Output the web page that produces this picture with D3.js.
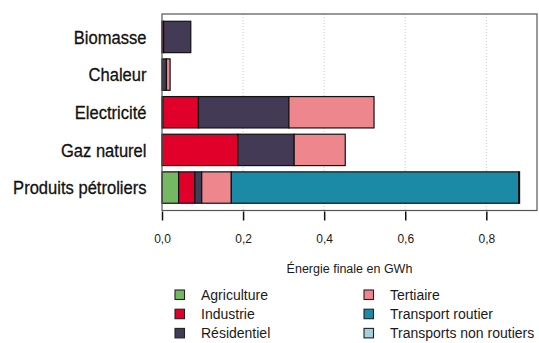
<!DOCTYPE html>
<html>
<head>
<meta charset="utf-8">
<script src="https://cdn.jsdelivr.net/npm/d3@7/dist/d3.min.js"></script>
<style>
  html, body { margin: 0; padding: 0; background: #fff; }
  svg { display: block; font-family: "Liberation Sans", Arial, sans-serif; }
</style>
</head>
<body>
<svg id="chart" width="539" height="343"></svg>
<script>
// Energy carriers (rows, top to bottom)
const categories = ["Biomasse", "Chaleur", "Electricité", "Gaz naturel", "Produits pétroliers"];

// Sectors (stack order) and their colours
const sectors = ["Agriculture", "Industrie", "Résidentiel", "Tertiaire", "Transport routier", "Transports non routiers"];
const sectorColors = ["#75b862", "#e1002a", "#433a55", "#ee868e", "#1a8aa6", "#a6cfdd"];

// Final energy per sector, GWh (one value per carrier)
const agriculture          = [0.000, 0.000, 0.002, 0.000, 0.041];
const industrie            = [0.004, 0.000, 0.088, 0.187, 0.040];
const residentiel          = [0.067, 0.011, 0.223, 0.139, 0.017];
const tertiaire            = [0.000, 0.009, 0.210, 0.126, 0.073];
const transportRoutier     = [0.000, 0.000, 0.000, 0.000, 0.709];
const transportsNonRoutier = [0.000, 0.000, 0.000, 0.000, 0.002];

const tickValues = [0, 0.2, 0.4, 0.6, 0.8];
const tickLabels = ["0,0", "0,2", "0,4", "0,6", "0,8"];
const axisTitle = "Énergie finale en GWh";

const seriesValues = [agriculture, industrie, residentiel, tertiaire, transportRoutier, transportsNonRoutier];
const table = categories.map((c, i) => {
  const row = { category: c };
  sectors.forEach((s, j) => { row[s] = seriesValues[j][i]; });
  return row;
});
const stacked = d3.stack().keys(sectors)(table);

const svg = d3.select("#chart");
const box = { left: 162, right: 537, top: 14, bottom: 210.5 };

const x = d3.scaleLinear().domain([0, 0.925]).range([box.left, box.right]);
const y = d3.scaleBand().domain(categories).range([box.top, box.bottom])
  .paddingInner(1 / 6).paddingOuter(0.193);
const color = d3.scaleOrdinal().domain(sectors).range(sectorColors);

// dotted vertical grid
svg.append("g").selectAll("line").data(tickValues.slice(1)).join("line")
  .attr("x1", d => x(d)).attr("x2", d => x(d))
  .attr("y1", box.top).attr("y2", box.bottom)
  .attr("stroke", "#c8c8c8").attr("stroke-width", 1).attr("stroke-dasharray", "1,2");

// stacked bars
svg.append("g").selectAll("g").data(stacked).join("g")
  .attr("fill", d => color(d.key))
  .selectAll("rect").data(d => d.filter(p => p[1] - p[0] > 0)).join("rect")
  .attr("x", d => x(d[0]))
  .attr("width", d => x(d[1]) - x(d[0]))
  .attr("y", d => y(d.data.category))
  .attr("height", y.bandwidth())
  .attr("stroke", "#111").attr("stroke-width", 1.2);

// frame
svg.append("rect")
  .attr("x", box.left).attr("y", box.top)
  .attr("width", box.right - box.left).attr("height", box.bottom - box.top)
  .attr("fill", "none").attr("stroke", "#555").attr("stroke-width", 1.2);

// category labels (narrow set)
svg.append("g").selectAll("text").data(categories).join("text")
  .attr("transform", d => `translate(146.5,${y(d) + y.bandwidth() / 2}) scale(0.895,1)`)
  .attr("dy", "0.36em").attr("text-anchor", "end")
  .attr("font-size", 18.5).attr("fill", "#111")
  .attr("stroke", "#111").attr("stroke-width", 0.3)
  .text(d => d);

// x axis
const xAxis = d3.axisBottom(x).tickValues(tickValues)
  .tickFormat((d, i) => tickLabels[i]).tickSize(9).tickPadding(14);
const gx = svg.append("g").attr("transform", `translate(0,${box.bottom + 1})`).call(xAxis);
gx.select(".domain").remove();
gx.selectAll(".tick line").attr("stroke", "#111").attr("stroke-width", 1.5);
gx.selectAll(".tick text").attr("font-size", 12).attr("fill", "#1a1a1a")
  .attr("font-family", "Liberation Sans, Arial, sans-serif");

svg.append("text")
  .attr("x", (box.left + box.right) / 2).attr("y", 273)
  .attr("text-anchor", "middle").attr("font-size", 12.5).attr("fill", "#1a1a1a")
  .text(axisTitle);

// legend, two columns of three
const legend = svg.append("g").selectAll("g").data(sectors).join("g")
  .attr("transform", (d, i) => `translate(${i < 3 ? 175 : 364},${294.5 + (i % 3) * 19.2})`);
legend.append("rect")
  .attr("x", 0).attr("y", -4.5).attr("width", 9.5).attr("height", 9.5)
  .attr("fill", d => color(d)).attr("stroke", "#222").attr("stroke-width", 1.1);
legend.append("text")
  .attr("x", 26).attr("y", 0).attr("dy", "0.36em")
  .attr("font-size", 14).attr("fill", "#1a1a1a")
  .text(d => d);
</script>
</body>
</html>
